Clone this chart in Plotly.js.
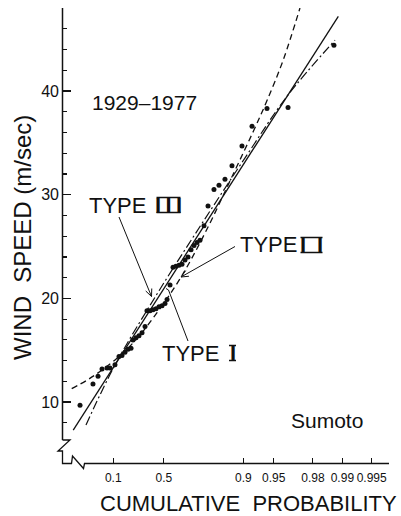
<!DOCTYPE html>
<html>
<head>
<meta charset="utf-8">
<script src="https://cdn.plot.ly/plotly-3.0.1.min.js"></script>
<style>
  html, body { margin: 0; padding: 0; background: #fff; }
  #chart { width: 401px; height: 516px; }
</style>
</head>
<body>
<div id="chart"></div>
<script>
// Annual maximum wind speed at Sumoto (1929-1977) plotted on Gumbel probability paper,
// with fitted extreme-value distributions of Type I, II and III.

// Observed annual maxima: plotting position (cumulative probability) and wind speed (m/s)
const obsProb = [0.0063, 0.0241, 0.0367, 0.0494, 0.0691, 0.0831, 0.1097, 0.1340, 0.1538, 0.1748,
                 0.1971, 0.2207, 0.2365, 0.2611, 0.2862, 0.3122, 0.3382, 0.3553, 0.3815, 0.4075,
                 0.4338, 0.4593, 0.4845, 0.5092, 0.5255, 0.5492, 0.5722, 0.5945, 0.6161, 0.6369,
                 0.6569, 0.6764, 0.6948, 0.7123, 0.7291, 0.7450, 0.7651, 0.7840, 0.8096, 0.8290,
                 0.8498, 0.8713, 0.8970, 0.9179, 0.9417, 0.9642, 0.9878];
const obsWind = [9.7, 11.75, 12.5, 13.2, 13.3, 13.3, 13.6, 14.4, 14.5, 14.8,
                 15.1, 15.2, 16.0, 16.2, 16.4, 16.7, 17.3, 18.8, 18.8, 18.9,
                 19.0, 19.2, 19.3, 19.5, 19.9, 21.3, 23.0, 23.1, 23.2, 23.3,
                 23.7, 24.0, 24.7, 25.1, 25.4, 25.6, 27.0, 28.9, 30.5, 30.9,
                 31.5, 32.8, 34.7, 36.6, 38.3, 38.4, 44.4];

// Type I (Gumbel) fit: straight line on this paper
const typeIProb = [0.0026, 0.989];
const typeIWind = [7.3, 47.2];

// Type II (Frechet) fit
const typeIIProb = [0.00209, 0.01326, 0.04264, 0.1197, 0.2593, 0.441, 0.628, 0.770, 0.8749, 0.9202, 0.9413, 0.960, 0.9729];
const typeIIWind = [11.3, 12.1, 12.95, 14.2, 16.0, 18.6, 22.0, 26.3, 32.0, 36.1, 39.0, 43.0, 48.0];

// Type III (Weibull, bounded) fit
const typeIIIProb = [0.0123, 0.1105, 0.441, 0.7509, 0.9046, 0.9634, 0.9881];
const typeIIIWind = [7.8, 13.6, 20.4, 27.1, 33.6, 39.5, 44.9];

// Axis ticks
const probTicks = [0.1, 0.5, 0.9, 0.95, 0.98, 0.99, 0.995];
const probTickLabels = ['0.1', '0.5', '0.9', '0.95', '0.98', '0.99', '0.995'];
const windMajor = [10, 20, 30, 40];
const windMinor = [8, 12, 14, 16, 18, 22, 24, 26, 28, 32, 34, 36, 38, 42, 44, 46];

// Gumbel reduced variate: the probability axis is linear in -ln(-ln F)
const gumbel = F => -Math.log(-Math.log(F));

// Page geometry and pixel -> paper helpers for the hand-drawn decorations
const W = 401, H = 516;
const M = { l: 62, r: 11, t: 8, b: 53 };
const plotW = W - M.l - M.r;
const plotH = H - M.t - M.b;
const px = x => (x - M.l) / plotW;
const py = y => (H - M.b - y) / plotH;

const ink = '#111';
const letterFont = 'Liberation Sans, Arial, sans-serif';

function arrowPath(x0, y0, x1, y1, head) {
  const a = Math.atan2(y1 - y0, x1 - x0);
  const s = 0.42;
  const hx1 = x1 - head * Math.cos(a - s), hy1 = y1 - head * Math.sin(a - s);
  const hx2 = x1 - head * Math.cos(a + s), hy2 = y1 - head * Math.sin(a + s);
  return `M${px(x0)},${py(y0)} L${px(x1)},${py(y1)} ` +
         `M${px(hx1)},${py(hy1)} L${px(x1)},${py(y1)} L${px(hx2)},${py(hy2)}`;
}
function polyPath(pts) {
  return pts.map((p, i) => (i ? 'L' : 'M') + px(p[0]) + ',' + py(p[1])).join(' ');
}
// top and bottom serif bars of a roman numeral spanning x0..x1 between yTop and yBot
function numeralBars(x0, x1, yTop, yBot) {
  return { type: 'path', xref: 'paper', yref: 'paper',
           path: polyPath([[x0, yTop], [x1, yTop]]) + ' ' + polyPath([[x0, yBot], [x1, yBot]]),
           line: { color: ink, width: 1.6 } };
}

const traces = [
  {
    x: typeIProb.map(gumbel), y: typeIWind, mode: 'lines', name: 'TYPE I',
    line: { color: ink, width: 1.3 }, hoverinfo: 'skip'
  },
  {
    x: typeIIIProb.map(gumbel), y: typeIIIWind, mode: 'lines', name: 'TYPE III',
    line: { color: ink, width: 1.2, dash: '9px,3px,2px,3px', shape: 'spline', smoothing: 1 }, hoverinfo: 'skip'
  },
  {
    x: typeIIProb.map(gumbel), y: typeIIWind, mode: 'lines', name: 'TYPE II',
    line: { color: ink, width: 1.3, dash: '6px,4px', shape: 'spline', smoothing: 1 }, hoverinfo: 'skip'
  },
  {
    x: obsProb.map(gumbel), y: obsWind, mode: 'markers', name: 'observed',
    marker: { color: ink, size: 5 }, hoverinfo: 'skip'
  }
];

const shapes = [
  // vertical axis line, stopping at the break
  { type: 'line', xref: 'paper', yref: 'paper', x0: px(62.5), y0: py(8), x1: px(62.5), y1: py(440),
    line: { color: ink, width: 1.5 } },
  // axis break and horizontal axis line
  { type: 'path', xref: 'paper', yref: 'paper',
    path: polyPath([[62.5, 440], [70, 440], [58, 451], [62.5, 451], [62.5, 463.5], [71.5, 463.5],
                    [72.5, 456], [83.5, 468.5], [84.5, 463.5], [389, 463.5]]),
    line: { color: ink, width: 1.3 } },
  // leader lines for the labels
  { type: 'path', xref: 'paper', yref: 'paper', path: arrowPath(119, 217, 151.5, 296.5, 8),
    line: { color: ink, width: 1 } },
  { type: 'path', xref: 'paper', yref: 'paper', path: arrowPath(235, 246.5, 181, 277, 8),
    line: { color: ink, width: 1 } },
  { type: 'path', xref: 'paper', yref: 'paper', path: polyPath([[188, 341], [168.5, 290], [166, 288.5]]),
    line: { color: ink, width: 1 } },
  // serif bars of the roman numerals
  numeralBars(156.5, 180.5, 197.5, 212.5),
  numeralBars(300.5, 322.5, 237.5, 252.5),
  numeralBars(229, 236, 345.5, 360.5)
];

const textAnn = (x, y, text, size, extra) => Object.assign({
  xref: 'paper', yref: 'paper', x: px(x), y: py(y), text: text, showarrow: false,
  xanchor: 'center', yanchor: 'middle', font: { family: letterFont, size: size, color: ink }
}, extra || {});
const numFont = { family: letterFont, size: 22, color: ink, weight: 'bold' };

const annotations = [
  textAnn(144, 102.5, '1929\u20131977', 21),
  textAnn(117.5, 205, 'TYPE', 22),
  textAnn(168.5, 205, 'I\u2009I\u2009I', 22, { font: numFont }),
  textAnn(268.5, 245, 'TYPE', 22),
  textAnn(311.5, 245, 'I\u2002I', 22, { font: numFont }),
  textAnn(190.5, 353, 'TYPE', 22),
  textAnn(232.5, 353, 'I', 22, { font: numFont }),
  textAnn(326.5, 420, 'Sumoto', 21),
  textAnn(248.5, 503.5, 'CUMULATIVE\u00a0\u00a0PROBABILITY', 22),
  textAnn(22.5, 237.5, 'WIND\u00a0\u00a0SPEED\u00a0(m/sec)', 24, { textangle: -90 })
];

const layout = {
  width: W, height: H,
  margin: M,
  paper_bgcolor: '#fff', plot_bgcolor: '#fff',
  showlegend: false,
  font: { family: letterFont, color: ink },
  xaxis: {
    range: [-2.05, 5.73], showline: false, showgrid: false, zeroline: false,
    ticks: 'inside', ticklen: 5, tickwidth: 1, tickcolor: ink,
    tickmode: 'array', tickvals: probTicks.map(gumbel), ticktext: probTickLabels,
    tickfont: { size: 12, color: ink }, ticklabelstandoff: 6, fixedrange: true
  },
  yaxis: {
    range: [4.13, 48.0], showline: false, showgrid: false, zeroline: false,
    ticks: 'inside', ticklen: 9, tickwidth: 1.3, tickcolor: ink,
    tickmode: 'array', tickvals: windMajor, ticktext: windMajor.map(String),
    tickfont: { size: 16, color: ink }, ticklabelstandoff: 2,
    minor: { tickmode: 'array', tickvals: windMinor, ticks: 'inside', ticklen: 5, tickwidth: 1.2, tickcolor: ink },
    fixedrange: true
  },
  shapes: shapes,
  annotations: annotations
};

Plotly.newPlot('chart', traces, layout, { staticPlot: true, displayModeBar: false });
</script>
</body>
</html>
